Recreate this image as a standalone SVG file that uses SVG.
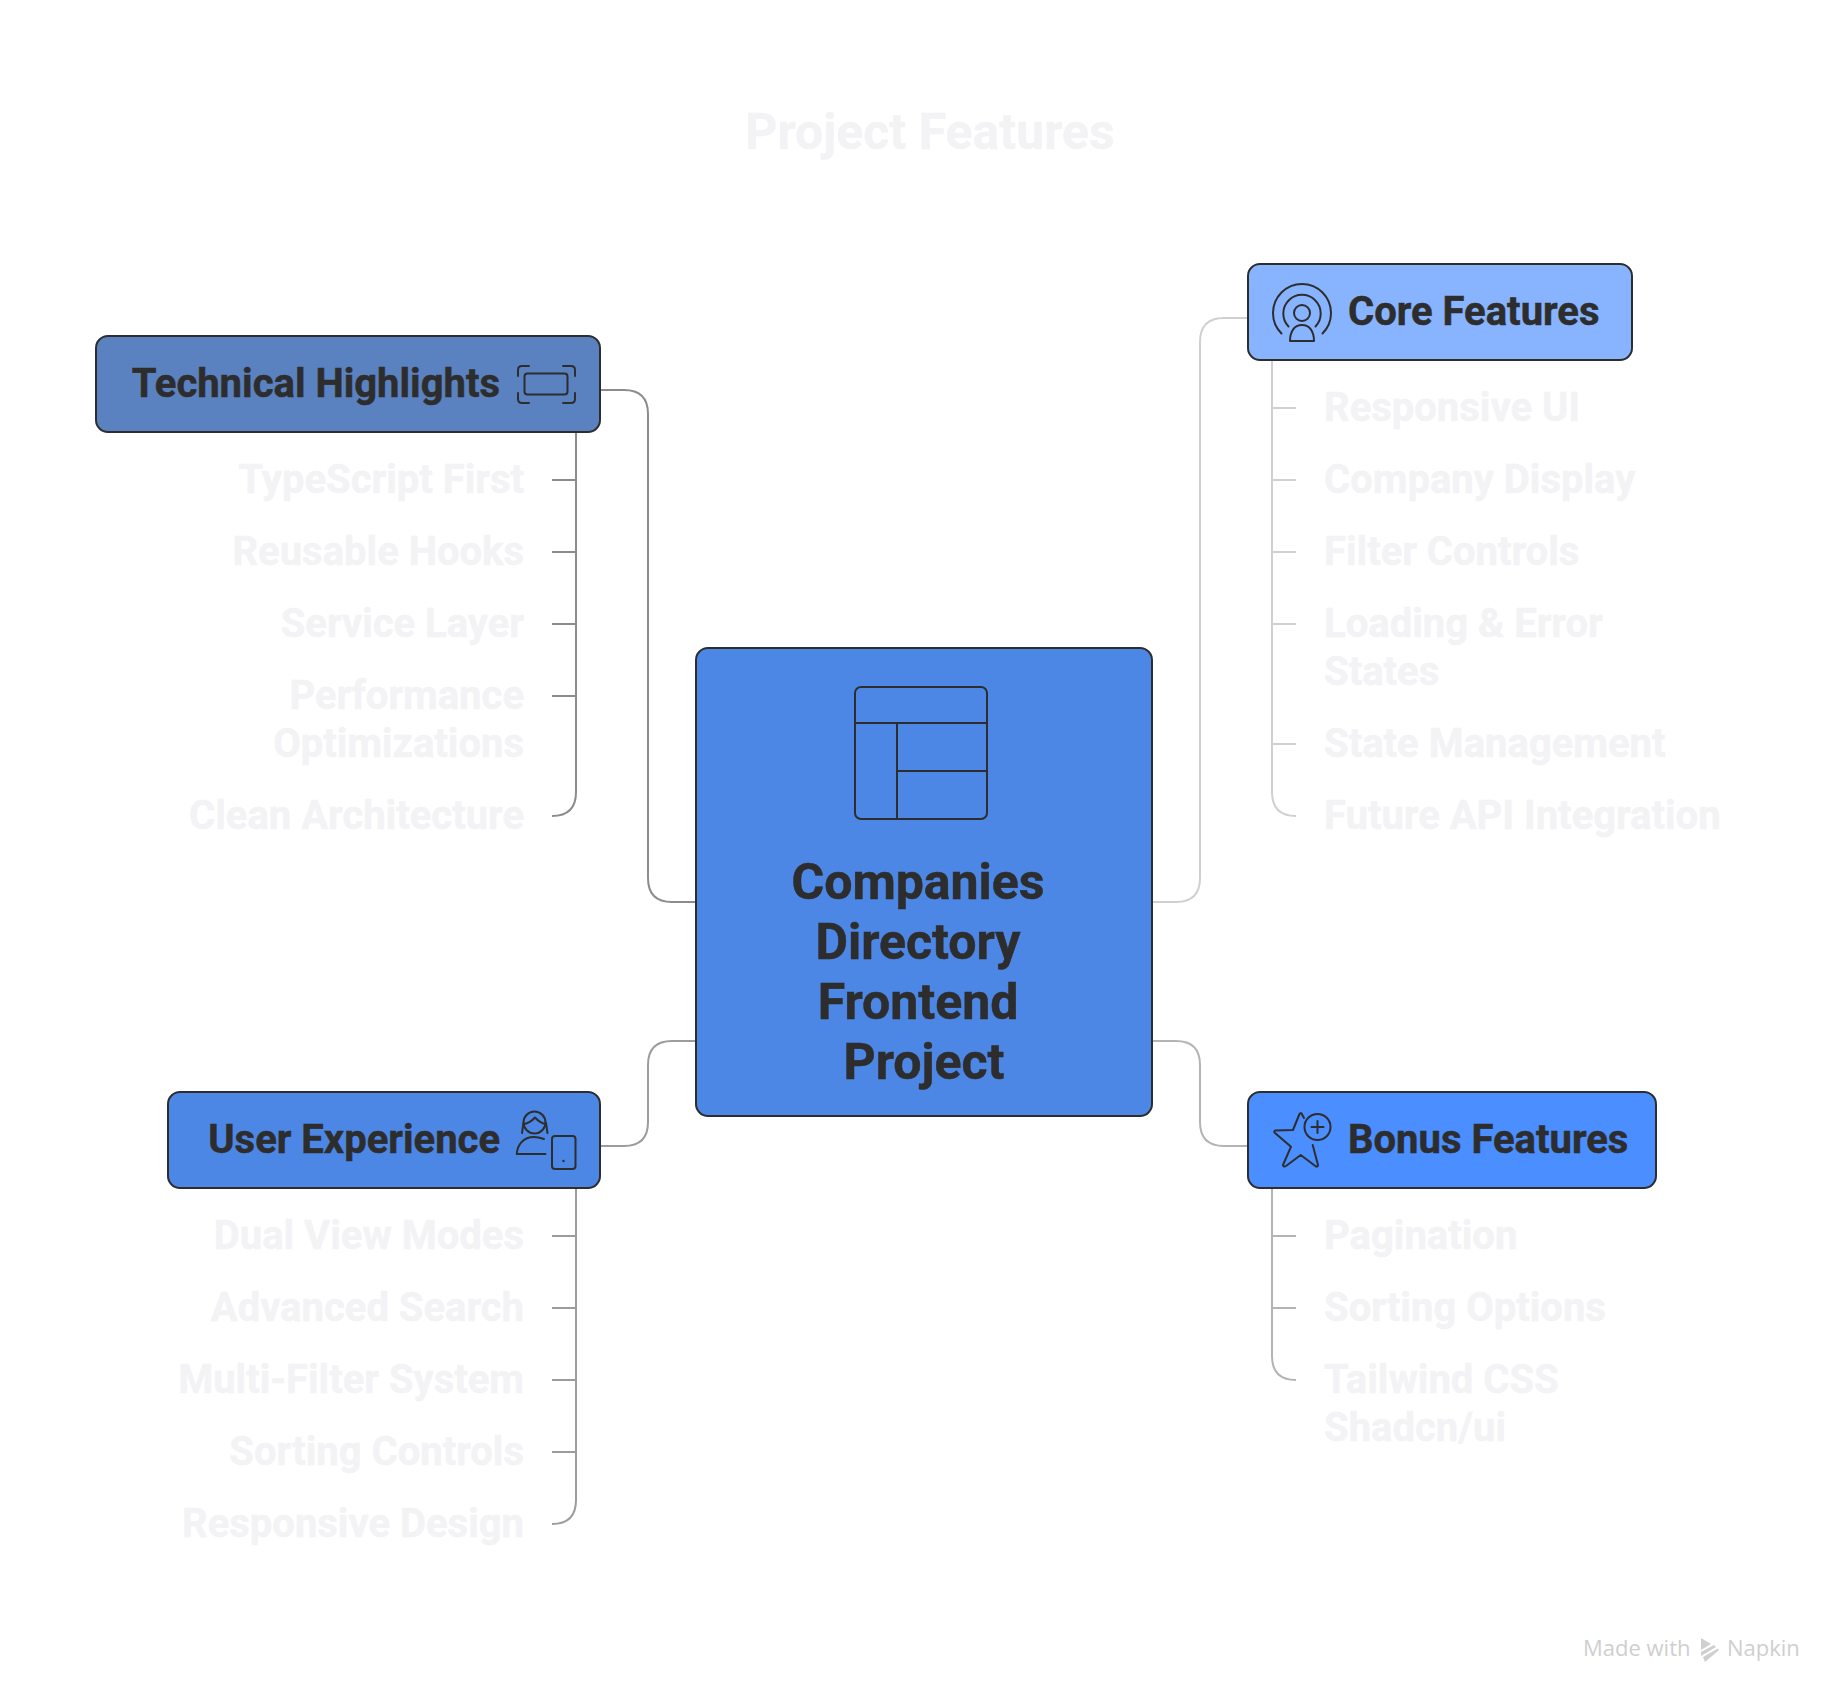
<svg xmlns="http://www.w3.org/2000/svg" width="1848" height="1704" viewBox="0 0 1848 1704">
<style>
text{font-family:Roboto,"Liberation Sans",sans-serif;font-weight:700}
.box{stroke:#2d2d2d;stroke-width:2}
.lbl{font-size:40px;fill:#2d2d2d;stroke:#2d2d2d;stroke-width:.5}
.ctr{font-size:50px;fill:#2d2d2d;stroke:#2d2d2d;stroke-width:.5;text-anchor:middle}
.sub{font-size:40px;fill:#f3f3f5;stroke:#f3f3f5;stroke-width:.5}
.end{text-anchor:end}
.ic{fill:none;stroke:#2d2d2d;stroke-width:2;stroke-linecap:round;stroke-linejoin:round}
.ln{fill:none;stroke-width:2}
.foot{font-family:"Open Sans","Noto Sans",sans-serif;font-weight:500;font-size:22px;fill:#cfcfcf;stroke:none}
</style>
<rect width="1848" height="1704" fill="#ffffff"/>
<text id="title" x="930" y="149" text-anchor="middle" style="font-size:50px;fill:#f3f3f5;stroke:#f3f3f5;stroke-width:.5">Project Features</text>
<g id="connectors">
<path class="ln" stroke="#8c8c8c" d="M600 390H624Q648 390 648 414V878Q648 902 672 902H696"/>
<path class="ln" stroke="#9c9c9c" d="M600 1146H624Q648 1146 648 1122V1065Q648 1041 672 1041H696"/>
<path class="ln" stroke="#d0d0d0" d="M1152 902H1176Q1200 902 1200 878V342Q1200 318 1224 318H1248"/>
<path class="ln" stroke="#b4b4b4" d="M1152 1041H1176Q1200 1041 1200 1065V1122Q1200 1146 1224 1146H1248"/>
<path class="ln" stroke="#8c8c8c" d="M576 432V792Q576 816 552 816M552 480H576M552 552H576M552 624H576M552 696H576"/>
<path class="ln" stroke="#9c9c9c" d="M576 1188V1500Q576 1524 552 1524M552 1236H576M552 1308H576M552 1380H576M552 1452H576"/>
<path class="ln" stroke="#d0d0d0" d="M1272 360V792Q1272 816 1296 816M1272 408H1296M1272 480H1296M1272 552H1296M1272 624H1296M1272 744H1296"/>
<path class="ln" stroke="#b4b4b4" d="M1272 1188V1356Q1272 1380 1296 1380M1272 1236H1296M1272 1308H1296"/>
</g>
<g id="center">
<rect class="box" x="696" y="648" width="456" height="468" rx="12" fill="#4d87e6"/>
<rect class="ic" x="855" y="687" width="132" height="132" rx="6"/>
<path class="ic" d="M855 723H987M897 723V819M897 771H987"/>
<text class="ctr" x="918" y="899">Companies</text>
<text class="ctr" x="918" y="959">Directory</text>
<text class="ctr" x="918" y="1019">Frontend</text>
<text class="ctr" x="924" y="1079">Project</text>
</g>
<g id="technical">
<rect class="box" x="96" y="336" width="504" height="96" rx="12" fill="#5b82c0"/>
<text class="lbl end" x="500" y="397">Technical Highlights</text>
<rect class="ic" x="524.5" y="373.5" width="43" height="21" rx="3"/>
<path class="ic" d="M529 366H522Q518 366 518 370V376M563 366H571Q575 366 575 370V376M529 403H522Q518 403 518 399V393M563 403H571Q575 403 575 399V393"/>
<text class="sub end" x="524" y="493">TypeScript First</text>
<text class="sub end" x="524" y="565">Reusable Hooks</text>
<text class="sub end" x="524" y="637">Service Layer</text>
<text class="sub end" x="524" y="709">Performance</text>
<text class="sub end" x="524" y="757">Optimizations</text>
<text class="sub end" x="524" y="829">Clean Architecture</text>
</g>
<g id="core">
<rect class="box" x="1248" y="264" width="384" height="96" rx="12" fill="#88b4ff"/>
<text class="lbl" x="1348" y="325">Core Features</text>
<circle class="ic" cx="1302" cy="313" r="8"/>
<path class="ic" d="M1288.500 326.500A18.700 18.700 0 1 1 1315.500 326.500M1281.500 333.500A29 29 0 1 1 1322.500 333.500M1290 341H1314C1314 332 1310 325 1302 325C1294 325 1290 332 1290 341Z"/>
<text class="sub" x="1324" y="421">Responsive UI</text>
<text class="sub" x="1324" y="493">Company Display</text>
<text class="sub" x="1324" y="565">Filter Controls</text>
<text class="sub" x="1324" y="637">Loading &amp; Error</text>
<text class="sub" x="1324" y="685">States</text>
<text class="sub" x="1324" y="757">State Management</text>
<text class="sub" x="1324" y="829">Future API Integration</text>
</g>
<g id="user">
<rect class="box" x="168" y="1092" width="432" height="96" rx="12" fill="#4d87e6"/>
<text class="lbl end" x="500" y="1153">User Experience</text>
<circle class="ic" cx="534.500" cy="1122.500" r="11"/>
<path class="ic" d="M523.500 1123L522 1133M546 1123L547.500 1133M524 1124Q530 1123 535 1117.500Q540 1123 545.500 1124M545.500 1154H516.700C517.500 1145 523 1137 534 1137C538 1137 541 1138 544 1139"/>
<rect class="ic" x="552" y="1136" width="23.500" height="33" rx="3"/>
<circle cx="563.500" cy="1161" r="1.200" fill="#2d2d2d"/>
<text class="sub end" x="524" y="1249">Dual View Modes</text>
<text class="sub end" x="524" y="1321">Advanced Search</text>
<text class="sub end" x="524" y="1393">Multi-Filter System</text>
<text class="sub end" x="524" y="1465">Sorting Controls</text>
<text class="sub end" x="524" y="1537">Responsive Design</text>
</g>
<g id="bonus">
<rect class="box" x="1248" y="1092" width="408" height="96" rx="12" fill="#4a8eff"/>
<text class="lbl" x="1348" y="1153">Bonus Features</text>
<circle class="ic" cx="1317.500" cy="1127" r="13"/>
<path class="ic" d="M1317.500 1121V1133M1311.500 1127H1323.500M1304 1118L1301.500 1113.500Q1300.500 1112.500 1299.500 1114L1293 1130L1275 1130.500Q1273.500 1131.500 1275 1133L1291 1146.700L1283 1165Q1283.500 1167.500 1286 1166L1300.700 1155L1316 1166.500Q1318 1167 1318 1165L1312.700 1145"/>
<text class="sub" x="1324" y="1249">Pagination</text>
<text class="sub" x="1324" y="1321">Sorting Options</text>
<text class="sub" x="1324" y="1393">Tailwind CSS</text>
<text class="sub" x="1324" y="1441">Shadcn/ui</text>
</g>
<g id="footer">
<text class="foot" x="1583" y="1656">Made with</text>
<path fill="#cfcfcf" d="M1701 1638L1711 1644L1701 1650ZM1701 1652L1714 1645L1716 1647L1701 1656ZM1703 1657L1718 1648.500L1719 1650L1705 1662Z"/>
<text class="foot" x="1727" y="1656">Napkin</text>
</g>
</svg>
